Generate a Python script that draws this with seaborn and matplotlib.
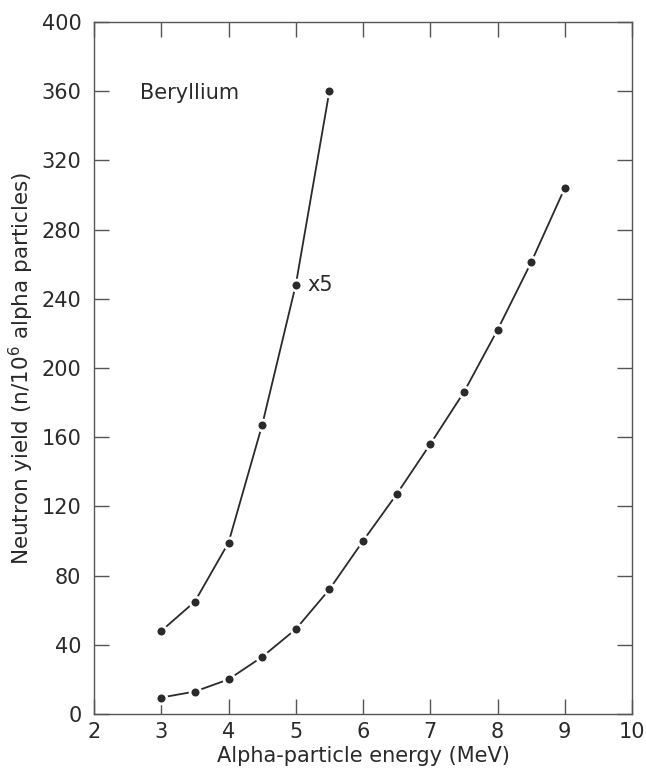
import matplotlib
matplotlib.use("Agg")
import matplotlib.pyplot as plt
import seaborn as sns
import pandas as pd

# Data
energy_x5 = [3.0, 3.5, 4.0, 4.5, 5.0, 5.5]
yield_x5 = [48, 65, 99, 167, 248, 360]

energy = [3.0, 3.5, 4.0, 4.5, 5.0, 5.5, 6.0, 6.5, 7.0, 7.5, 8.0, 8.5, 9.0]
yield_be = [9.5, 13, 20, 33, 49, 72, 100, 127, 156, 186, 222, 261, 304]

x_ticks = [2, 3, 4, 5, 6, 7, 8, 9, 10]
y_ticks = [0, 40, 80, 120, 160, 200, 240, 280, 320, 360, 400]

sns.set_style("ticks")
plt.rcParams['font.family'] = ['DejaVu Sans']

df1 = pd.DataFrame({"E": energy_x5, "Y": yield_x5})
df2 = pd.DataFrame({"E": energy, "Y": yield_be})

fig = plt.figure(figsize=(6.46, 7.74), dpi=100)
ax = fig.add_axes([94/646, 1 - 714/774, (632 - 94)/646, (714 - 22)/774])

ink = "#2a2a2a"
kw = dict(color=ink, linewidth=1.3, marker="o", markersize=7.8,
          markerfacecolor=ink, markeredgecolor="white", markeredgewidth=2.0)
sns.lineplot(data=df1, x="E", y="Y", ax=ax, **kw)
sns.lineplot(data=df2, x="E", y="Y", ax=ax, **kw)

ax.set_xlim(2, 10)
ax.set_ylim(0, 400)
ax.set_xticks(x_ticks)
ax.set_yticks(y_ticks)
ax.tick_params(direction="in", length=11, width=1.0, color="#555555",
               top=True, right=True, labelsize=15, labelcolor="#2a2a2a")
ax.tick_params(axis="y", pad=9)
ax.tick_params(axis="x", pad=6)
for s in ax.spines.values():
    s.set_visible(True)
    s.set_color("#555555")
    s.set_linewidth(1.0)

ax.set_xlabel("Alpha-particle energy (MeV)", fontsize=15, color="#2a2a2a", labelpad=3)
ax.set_ylabel("Neutron yield (n/10$^6$ alpha particles)", fontsize=15.5,
              color="#2a2a2a", labelpad=4)

ax.text(2.68, 359, "Beryllium", fontsize=15, color="#2a2a2a", va="center", ha="left")
ax.text(5.18, 248, "x5", fontsize=15, color="#2a2a2a", va="center", ha="left")

fig.savefig("out.png", dpi=100)
